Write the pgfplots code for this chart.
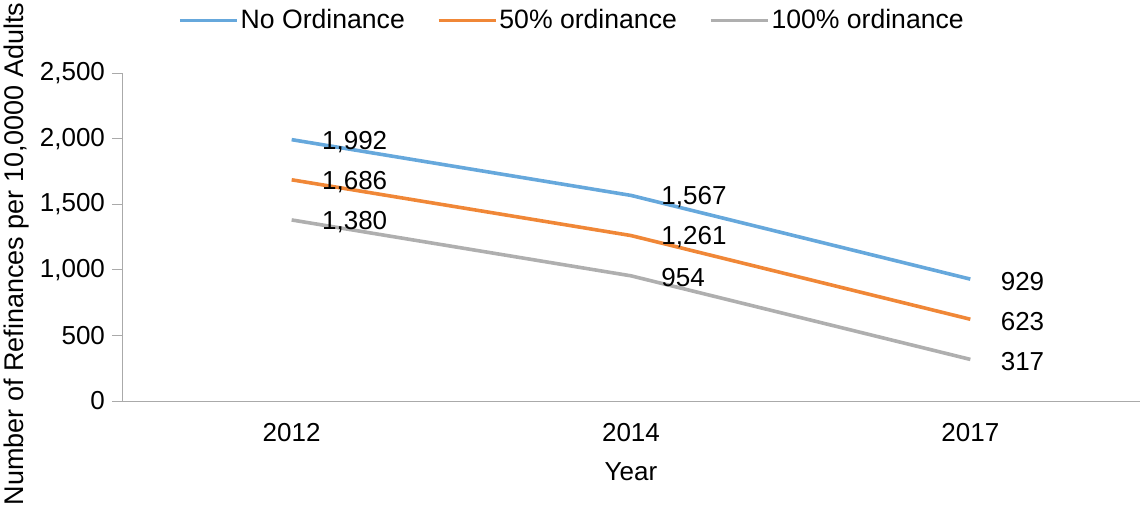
\documentclass[border=0pt]{standalone}
\usepackage{pgfplots}
\pgfplotsset{compat=1.18}
\usepackage{fontspec}
\setmainfont{Liberation Sans}
\definecolor{cblue}{RGB}{102,168,220}
\definecolor{corange}{RGB}{240,135,55}
\definecolor{cgray}{RGB}{175,175,175}
\definecolor{axgray}{RGB}{170,170,170}
\begin{document}
\begin{tikzpicture}
\useasboundingbox (0,0) rectangle (570pt,254pt);
\begin{axis}[
  at={(61pt,53.5pt)}, anchor=south west,
  scale only axis, width=509pt, height=164pt,
  xmin=-0.5, xmax=2.5, ymin=0, ymax=2500,
  xtick={0,1,2}, xticklabels={2012,2014,2017},
  extra x ticks={-0.5,0.5,1.5},
  extra x tick labels={},
  extra x tick style={major tick length=5pt, tick style={axgray, thin}},
  x tick style={draw=none},
  ytick={0,500,1000,1500,2000,2500},
  y tick style={axgray, thin},
  major tick length=5pt,
  tick align=outside,
  axis x line*=bottom, axis y line*=left,
  axis line style={axgray, thin, -},
  font=\fontsize{13}{15}\selectfont,
  tick label style={font=\fontsize{13}{15}\selectfont},
  x tick label style={yshift=-2.5pt},
  /pgf/number format/assume math mode=true,
  /pgf/number format/1000 sep={,},
  scaled y ticks=false,
  xlabel={Year},
  ylabel={Number of Refinances per 10,0000 Adults},
  xlabel style={font=\fontsize{13}{15}\selectfont, yshift=6.5pt},
  ylabel style={at={(axis description cs:-0.104,0.448)}, anchor=center, font=\fontsize{13.5}{15}\selectfont},
  legend style={at={(axis description cs:0.442,1.16)}, anchor=center, draw=none, fill=none,
    legend columns=3, font=\fontsize{13.3}{15}\selectfont,
    nodes={inner xsep=1pt},
    /tikz/every even column/.append style={column sep=15pt}},
  legend image code/.code={\draw[#1, line width=1.8pt] (0pt,0pt) -- (28.5pt,0pt);},
  nodes near coords,
  every node near coord/.append style={anchor=west, xshift=11pt, yshift=-1pt, text=black, font=\fontsize{13}{15}\selectfont},
  clip=false,
]
\addplot[cblue, line width=1.8pt] coordinates {(0,1992) (1,1567) (2,929)};
\addlegendentry{No Ordinance}
\addplot[corange, line width=1.8pt] coordinates {(0,1686) (1,1261) (2,623)};
\addlegendentry{50\% ordinance}
\addplot[cgray, line width=1.8pt] coordinates {(0,1380) (1,954) (2,317)};
\addlegendentry{100\% ordinance}
\end{axis}
\end{tikzpicture}
\end{document}
